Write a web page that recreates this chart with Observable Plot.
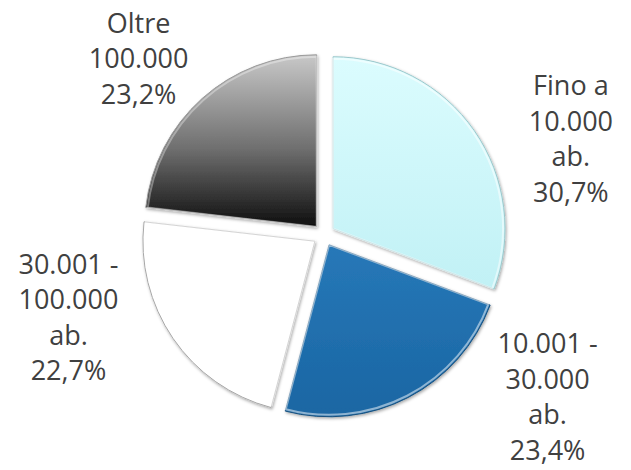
<!DOCTYPE html>
<html><head><meta charset="utf-8">
<script src="https://cdn.jsdelivr.net/npm/d3@7"></script>
<script src="https://cdn.jsdelivr.net/npm/@observablehq/plot@0.6"></script>
<style>html,body{margin:0;padding:0;background:#fff;}</style>
</head><body><div id="chart"></div>
<script>
// ---- data ----
const categories = ["Fino a 10.000 ab.", "10.001 - 30.000 ab.", "30.001 - 100.000 ab.", "Oltre 100.000"];
const categoryLines = ["Fino a\n10.000\nab.", "10.001 -\n30.000\nab.", "30.001 -\n100.000\nab.", "Oltre\n100.000"];
const values = [30.7, 23.4, 22.7, 23.2];

// ---- layout / style (not data) ----
const W = 631, H = 470, R = 172, CX = 324, CY = 235, EXPLODE = 11;
const labelShift = [[96, 6], [139, -3], [-105, -23], [-64, -42]];
const gradients = [
  [["0%", "#dbfcfe"], ["100%", "#c1f1f5"]],
  [["0%", "#2778b8"], ["100%", "#1a66a3"]],
  [["0%", "#ffffff"], ["100%", "#ffffff"]],
  [["0%", "#c8c8c8"], ["55%", "#6e6e6e"], ["100%", "#0e0e0e"]]
];
const outlines = ["#9cc8cc", "#15507f", "#a8a8a8", "#9a9a9a"];

const fmtPct = v => d3.format(".1f")(v).replace(".", ",") + "%";
const arcs = d3.pie().sort(null).value(d => d)(values);
const table = categories.map((c, i) => {
  const mid = (arcs[i].startAngle + arcs[i].endAngle) / 2;
  const rr = (R + EXPLODE) / R;
  return {category: c, value: values[i], label: categoryLines[i] + "\n" + fmtPct(values[i]),
          lx: rr * Math.sin(mid), ly: rr * Math.cos(mid)};
});

function pieMark(index, scales) {
  const {x, y} = scales;
  const cx = x(0), cy = y(0), r = x(1) - x(0);
  const off = EXPLODE / R * r;
  const g = d3.create("svg:g");
  const defs = g.append("defs");
  const f = defs.append("filter").attr("id", "pieShadow").attr("x", "-10%").attr("y", "-10%").attr("width", "120%").attr("height", "120%");
  f.append("feDropShadow").attr("dx", 1).attr("dy", 1.5).attr("stdDeviation", 1.8)
    .attr("flood-color", "#000").attr("flood-opacity", 0.35);
  gradients.forEach((stops, i) => {
    const lg = defs.append("linearGradient").attr("id", "pieGrad" + i)
      .attr("x1", 0).attr("y1", 0).attr("x2", 0).attr("y2", 1);
    stops.forEach(([o, c]) => lg.append("stop").attr("offset", o).attr("stop-color", c));
  });
  const arc = d3.arc().innerRadius(0).outerRadius(r);
  const arcIn = d3.arc().innerRadius(0).outerRadius(r - 2);
  arcs.forEach((a, i) => {
    const m = (a.startAngle + a.endAngle) / 2;
    const s = g.append("g").attr("transform", `translate(${cx + off * Math.sin(m)},${cy - off * Math.cos(m)})`);
    s.append("path").attr("d", arc(a)).attr("fill", `url(#pieGrad${i})`)
      .attr("stroke", outlines[i]).attr("stroke-width", 1).attr("filter", "url(#pieShadow)");
    s.append("path").attr("d", arcIn(a)).attr("fill", "none")
      .attr("stroke", "#ffffff").attr("stroke-opacity", i === 3 ? 0.35 : 0.5).attr("stroke-width", 2);
  });
  return g.node();
}

const chart = Plot.plot({
  width: W,
  height: H,
  marginLeft: CX - R,
  marginRight: W - CX - R,
  marginTop: CY - R,
  marginBottom: H - CY - R,
  inset: 0,
  x: {domain: [-1, 1], axis: null},
  y: {domain: [-1, 1], axis: null},
  style: {background: "#fff", fontFamily: "'Open Sans', sans-serif"},
  marks: [
    pieMark,
    ...table.map((d, i) => Plot.text([d], {
      x: "lx", y: "ly", text: "label",
      textAnchor: "middle", lineAnchor: "middle", lineHeight: 1.315,
      fontSize: 27, fill: "#404040",
      dx: labelShift[i][0], dy: labelShift[i][1]
    }))
  ]
});
document.getElementById("chart").appendChild(chart);
</script>
</body></html>
